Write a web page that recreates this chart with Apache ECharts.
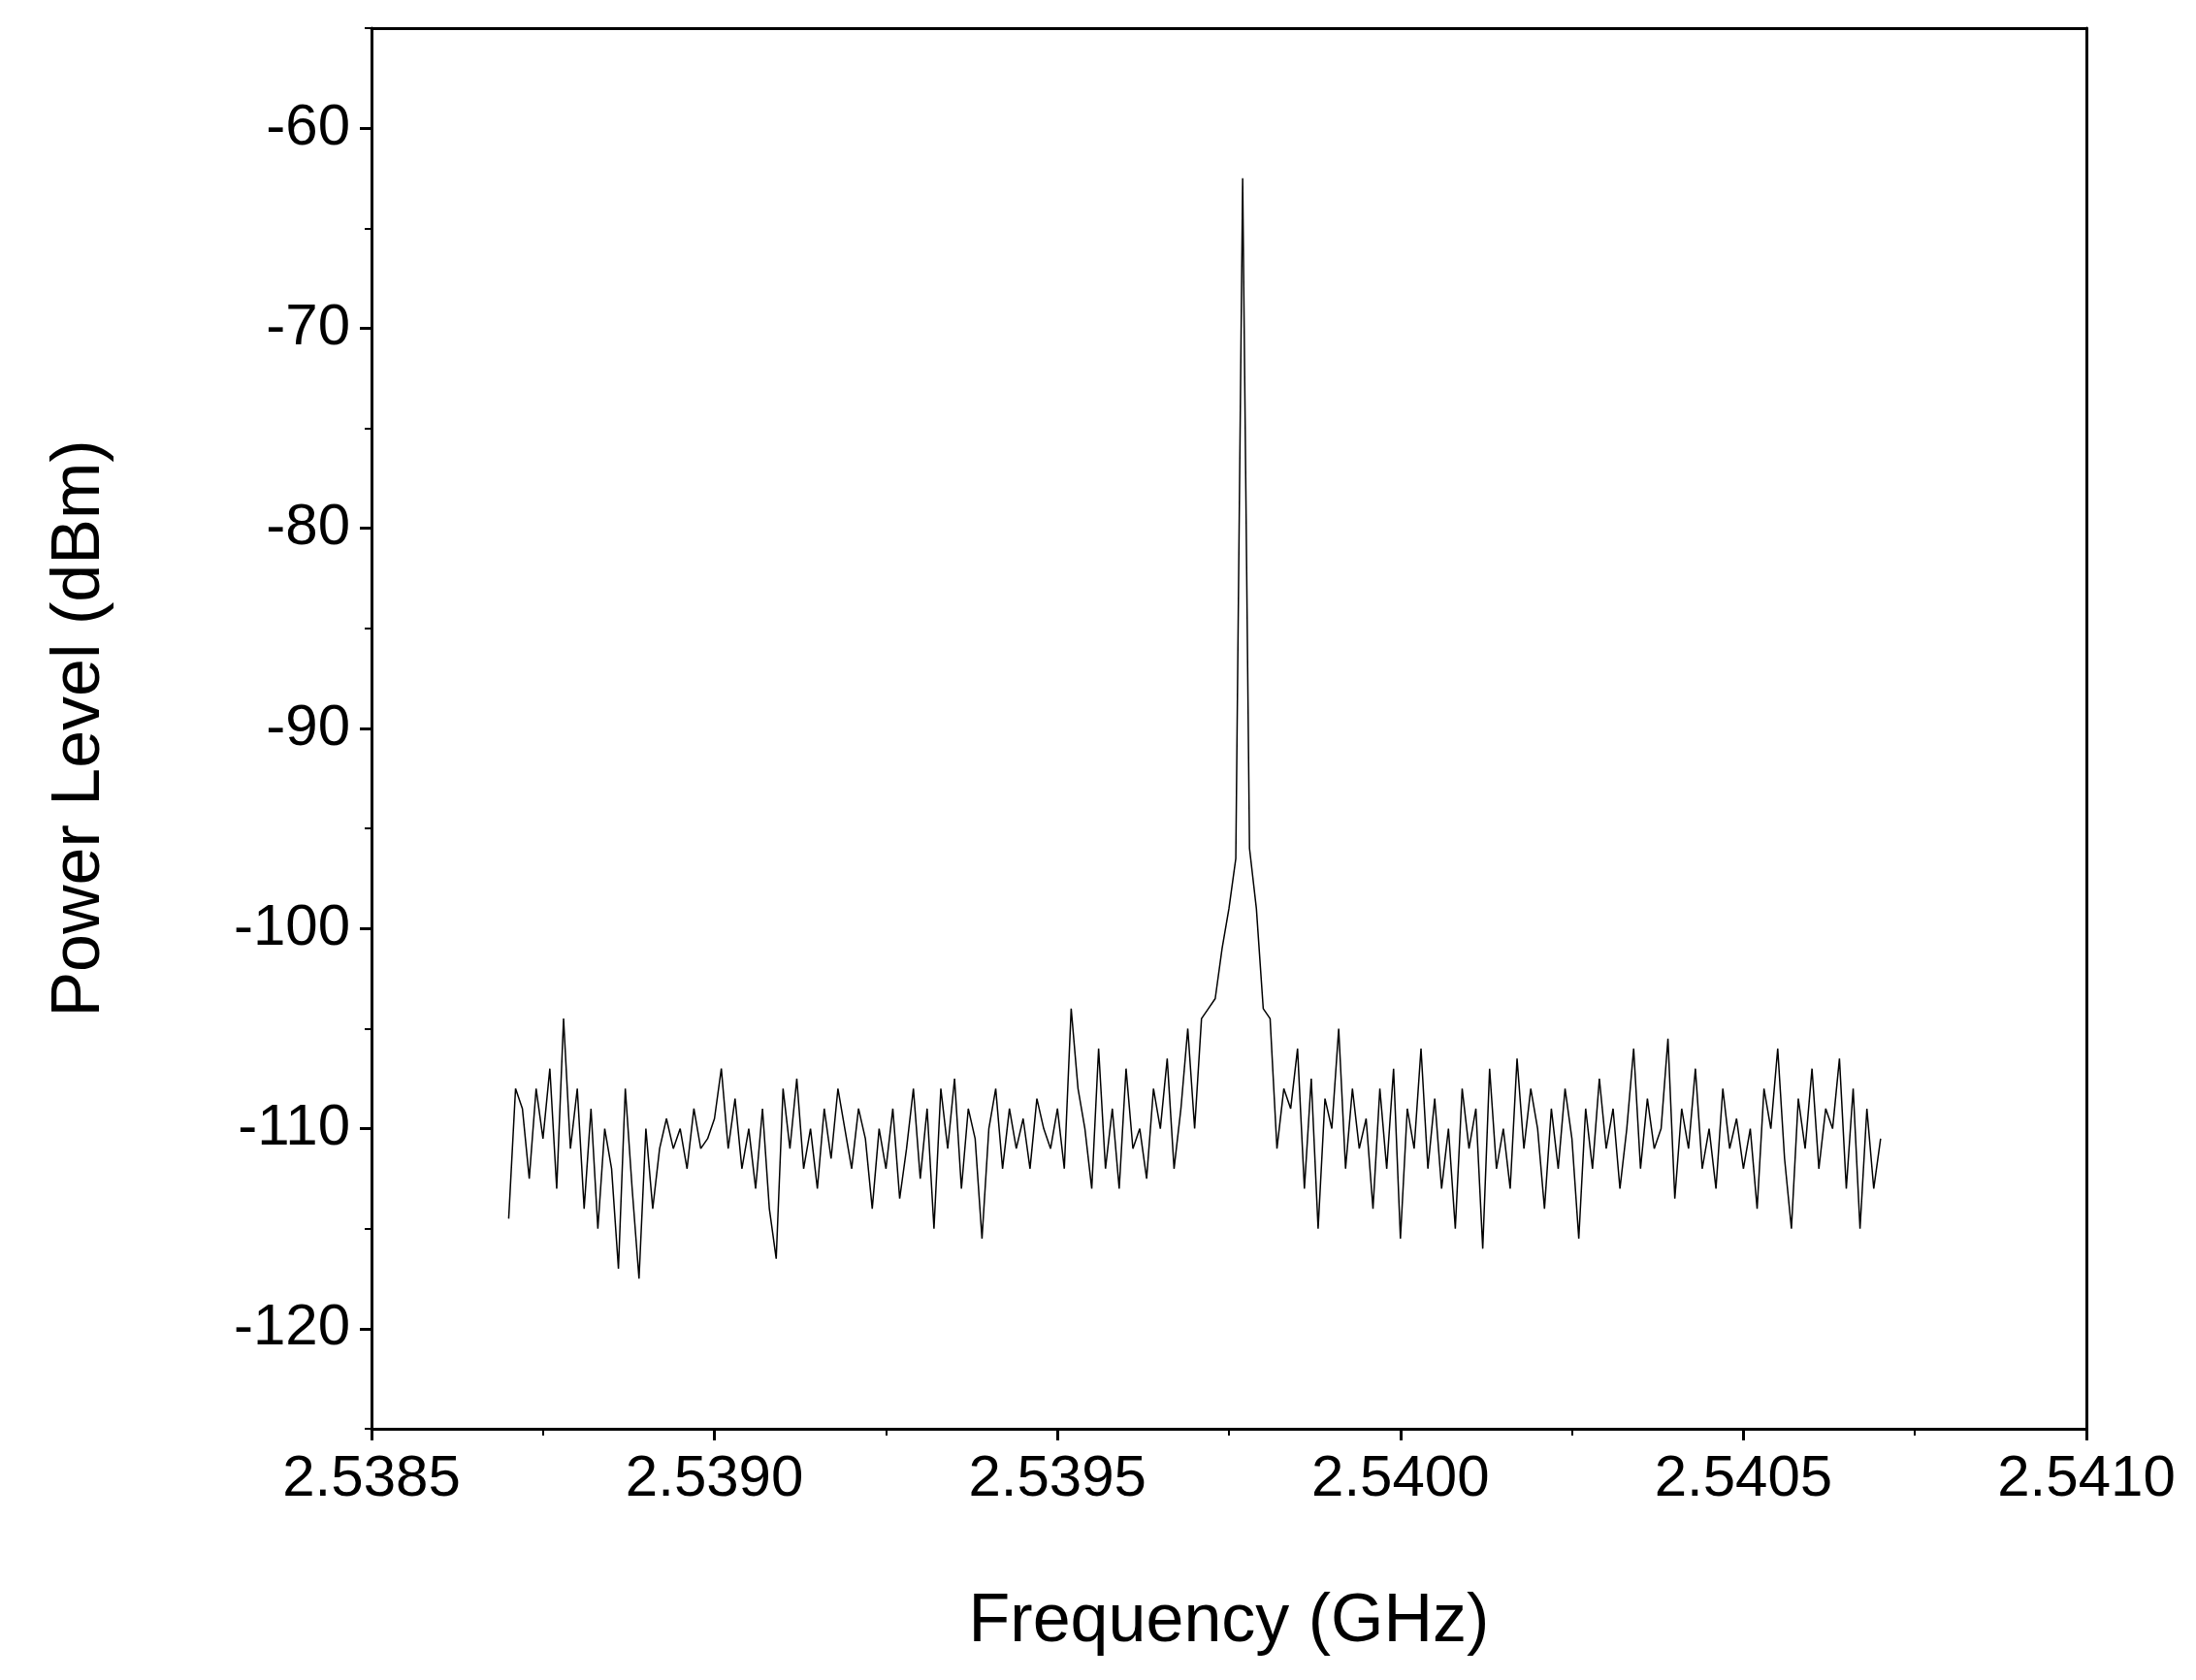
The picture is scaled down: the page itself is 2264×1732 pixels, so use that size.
<!DOCTYPE html>
<html><head><meta charset="utf-8">
<script src="https://cdn.jsdelivr.net/npm/echarts@6/dist/echarts.min.js"></script>
<style>html,body{margin:0;padding:0;background:#fff}#c{width:2264px;height:1732px}</style>
</head><body><div id="c"></div>
<script>
const xStart = 2.5387, xStep = 0.00001;
const yMajorTicks = [-120,-110,-100,-90,-80,-70,-60];
const yMinorTicks = [-125,-115,-105,-95,-85,-75,-65,-55];
const powerValues = [
-114.5,-108,-109,-112.5,-108,-110.5,-107,-113,-104.5,-111,
-108,-114,-109,-115,-110,-112,-117,-108,-113,-117.5,
-110,-114,-111,-109.5,-111,-110,-112,-109,-111,-110.5,
-109.5,-107,-111,-108.5,-112,-110,-113,-109,-114,-116.5,
-108,-111,-107.5,-112,-110,-113,-109,-111.5,-108,-110,
-112,-109,-110.5,-114,-110,-112,-109,-113.5,-111,-108,
-112.5,-109,-115,-108,-111,-107.5,-113,-109,-110.5,-115.5,
-110,-108,-112,-109,-111,-109.5,-112,-108.5,-110,-111,
-109,-112,-104,-108,-110,-113,-106,-112,-109,-113,
-107,-111,-110,-112.5,-108,-110,-106.5,-112,-109,-105,
-110,-104.5,-104,-103.5,-101,-99,-96.5,-62.5,-96,-99,
-104,-104.5,-111,-108,-109,-106,-113,-107.5,-115,-108.5,
-110,-105,-112,-108,-111,-109.5,-114,-108,-112,-107,
-115.5,-109,-111,-106,-112,-108.5,-113,-110,-115,-108,
-111,-109,-116,-107,-112,-110,-113,-106.5,-111,-108,
-110,-114,-109,-112,-108,-110.5,-115.5,-109,-112,-107.5,
-111,-109,-113,-110,-106,-112,-108.5,-111,-110,-105.5,
-113.5,-109,-111,-107,-112,-110,-113,-108,-111,-109.5,
-112,-110,-114,-108,-110,-106,-111.5,-115,-108.5,-111,
-107,-112,-109,-110,-106.5,-113,-108,-115,-109,-113,
-110.5];
const data = powerValues.map((v,i)=>[+(xStart+i*xStep).toFixed(6), v]);
const font = '"Liberation Sans", Arial, sans-serif';
const chart = echarts.init(document.getElementById('c'));
chart.setOption({
  backgroundColor:'#fff',
  animation:false,
  grid:{left:383,right:113,top:29,bottom:259,containLabel:false},
  xAxis:[{type:'value',min:2.5385,max:2.541,interval:0.0005,
    axisLine:{show:true,onZero:false,lineStyle:{color:'#000',width:3}},
    axisTick:{show:true,length:12,lineStyle:{color:'#000',width:3}},
    minorTick:{show:true,splitNumber:2,length:7,lineStyle:{color:'#000',width:2}},
    splitLine:{show:false},
    axisLabel:{fontFamily:font,fontSize:60,color:'#000',margin:22,formatter:v=>v.toFixed(4)},
    name:'Frequency (GHz)',nameLocation:'middle',nameGap:165,
    nameTextStyle:{fontFamily:font,fontSize:70,color:'#000'}},
    {type:'value',position:'top',min:2.5385,max:2.541,axisLine:{show:true,lineStyle:{color:'#000',width:3}},axisTick:{show:false},axisLabel:{show:false},splitLine:{show:false}}],
  yAxis:[{type:'value',min:-125,max:-55,
    axisLine:{show:true,onZero:false,lineStyle:{color:'#000',width:3}},
    axisTick:{show:true,length:12,customValues:yMajorTicks,lineStyle:{color:'#000',width:3}},
    splitLine:{show:false},
    axisLabel:{fontFamily:font,fontSize:60,color:'#000',margin:22,customValues:yMajorTicks},
    name:'Power Level (dBm)',nameLocation:'middle',nameGap:265,
    nameTextStyle:{fontFamily:font,fontSize:70,color:'#000'}},
    {type:'value',position:'left',min:-125,max:-55,axisLine:{show:false},
    axisTick:{show:true,length:7,customValues:yMinorTicks,lineStyle:{color:'#000',width:2}},
    axisLabel:{show:false},splitLine:{show:false}},
    {type:'value',position:'right',min:-125,max:-55,axisLine:{show:true,lineStyle:{color:'#000',width:3}},axisTick:{show:false},axisLabel:{show:false},splitLine:{show:false}}],
  series:[{type:'line',data:data,showSymbol:false,lineStyle:{color:'#000',width:1.5}}]
});
</script></body></html>
